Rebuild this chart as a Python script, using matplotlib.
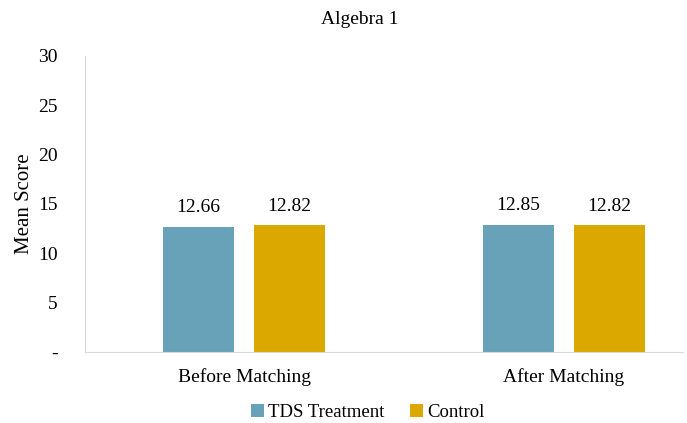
import matplotlib.pyplot as plt
import numpy as np

plt.rcParams['font.family'] = ['Liberation Serif', 'DejaVu Serif']

categories = ["Before Matching", "After Matching"]
series_names = ["TDS Treatment", "Control"]
treatment = [12.66, 12.85]
control = [12.82, 12.82]
yticks = [0, 5, 10, 15, 20, 25, 30]
ytick_labels = ["-", "5", "10", "15", "20", "25", "30"]

colors = ["#67A2B9", "#DBA800"]

fig = plt.figure(figsize=(6.87, 4.23), dpi=100)
ax = fig.add_axes([0.124, 0.168, 0.870, 0.700])

x = np.arange(len(categories))
w = 0.222
off = 0.142
for vals, dx, c, name in [(treatment, -off, colors[0], series_names[0]),
                          (control, off, colors[1], series_names[1])]:
    bars = ax.bar(x + dx, vals, width=w, color=c, label=name)
    for b, v in zip(bars, vals):
        ax.text(b.get_x() + b.get_width() / 2, v + 1.1, f"{v:.2f}",
                ha="center", va="bottom", fontsize=14)

ax.set_xlim(-0.497, 1.372)
ax.set_ylim(0, 30)
ax.set_yticks(yticks)
ax.set_yticklabels(ytick_labels, fontsize=14)
ax.set_xticks(x)
ax.set_xticklabels(categories, fontsize=14)
ax.tick_params(length=0)
ax.tick_params(axis="y", pad=20)
ax.tick_params(axis="x", pad=12)

for s in ["top", "right"]:
    ax.spines[s].set_visible(False)
ax.spines["left"].set_color("#D9D9D9")
ax.spines["bottom"].set_color("#D9D9D9")

ax.set_ylabel("Mean Score", fontsize=15, labelpad=3)
fig.text(0.524, 0.955, "Algebra 1", ha="center", va="center", fontsize=14)

fig.legend(loc="lower center", bbox_to_anchor=(0.535, -0.035), ncol=2,
           frameon=False, fontsize=13.5, handlelength=0.7, handleheight=0.7,
           handletextpad=0.2, columnspacing=1.4)

fig.savefig("out.png", dpi=100)
